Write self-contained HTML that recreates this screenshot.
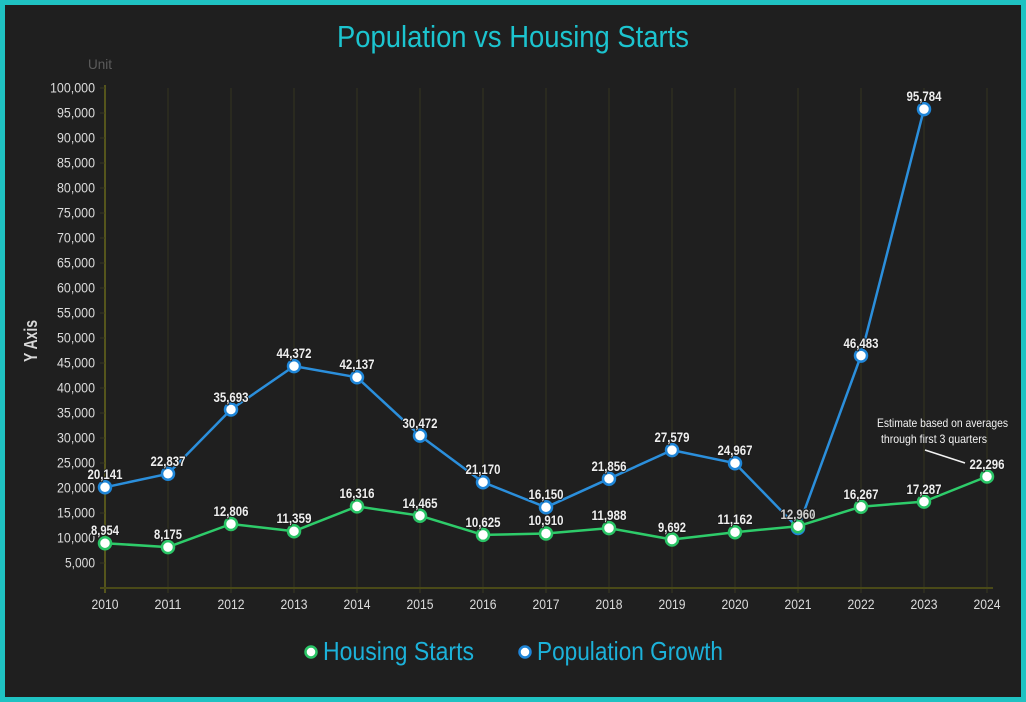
<!DOCTYPE html>
<html><head><meta charset="utf-8"><style>
html,body{margin:0;padding:0;background:#1f1f1f;}
svg{display:block;}
text{font-family:"Liberation Sans Narrow","Liberation Sans",sans-serif;}
</style></head><body>
<svg width="1026" height="702" viewBox="0 0 1026 702" xmlns="http://www.w3.org/2000/svg">
<rect x="0" y="0" width="1026" height="702" fill="#1f1f1f"/>
<rect x="2.5" y="2.5" width="1021" height="697" fill="none" stroke="#1fc2c2" stroke-width="5"/>

<text x="337" y="47" font-size="31" fill="#1cc4cf" textLength="352" lengthAdjust="spacingAndGlyphs">Population vs Housing Starts</text>
<text x="88" y="69" font-size="14" fill="#5c5c5c" textLength="24" lengthAdjust="spacingAndGlyphs">Unit</text>
<text transform="translate(37,341) rotate(-90)" text-anchor="middle" font-size="18" font-weight="bold" fill="#d8d8d8" textLength="42" lengthAdjust="spacingAndGlyphs">Y Axis</text>

<g stroke="#34341f" stroke-width="1">
<line x1="168" y1="88" x2="168" y2="588"/><line x1="231" y1="88" x2="231" y2="588"/><line x1="294" y1="88" x2="294" y2="588"/><line x1="357" y1="88" x2="357" y2="588"/><line x1="420" y1="88" x2="420" y2="588"/><line x1="483" y1="88" x2="483" y2="588"/><line x1="546" y1="88" x2="546" y2="588"/><line x1="609" y1="88" x2="609" y2="588"/><line x1="672" y1="88" x2="672" y2="588"/><line x1="735" y1="88" x2="735" y2="588"/><line x1="798" y1="88" x2="798" y2="588"/><line x1="861" y1="88" x2="861" y2="588"/><line x1="924" y1="88" x2="924" y2="588"/><line x1="987" y1="88" x2="987" y2="588"/>
</g>
<g stroke="#3a3a20" stroke-width="1">
<line x1="105" y1="588" x2="105" y2="593"/><line x1="168" y1="588" x2="168" y2="593"/><line x1="231" y1="588" x2="231" y2="593"/><line x1="294" y1="588" x2="294" y2="593"/><line x1="357" y1="588" x2="357" y2="593"/><line x1="420" y1="588" x2="420" y2="593"/><line x1="483" y1="588" x2="483" y2="593"/><line x1="546" y1="588" x2="546" y2="593"/><line x1="609" y1="588" x2="609" y2="593"/><line x1="672" y1="588" x2="672" y2="593"/><line x1="735" y1="588" x2="735" y2="593"/><line x1="798" y1="588" x2="798" y2="593"/><line x1="861" y1="588" x2="861" y2="593"/><line x1="924" y1="588" x2="924" y2="593"/><line x1="987" y1="588" x2="987" y2="593"/>
</g>
<line x1="105" y1="85" x2="105" y2="593" stroke="#55551c" stroke-width="2"/>
<line x1="100" y1="588" x2="993" y2="588" stroke="#4a4a18" stroke-width="2"/>

<g stroke="#3a3a20" stroke-width="1">
<line x1="100" y1="88" x2="105" y2="88"/><line x1="100" y1="113" x2="105" y2="113"/><line x1="100" y1="138" x2="105" y2="138"/><line x1="100" y1="163" x2="105" y2="163"/><line x1="100" y1="188" x2="105" y2="188"/><line x1="100" y1="213" x2="105" y2="213"/><line x1="100" y1="238" x2="105" y2="238"/><line x1="100" y1="263" x2="105" y2="263"/><line x1="100" y1="288" x2="105" y2="288"/><line x1="100" y1="313" x2="105" y2="313"/><line x1="100" y1="338" x2="105" y2="338"/><line x1="100" y1="363" x2="105" y2="363"/><line x1="100" y1="388" x2="105" y2="388"/><line x1="100" y1="413" x2="105" y2="413"/><line x1="100" y1="438" x2="105" y2="438"/><line x1="100" y1="463" x2="105" y2="463"/><line x1="100" y1="488" x2="105" y2="488"/><line x1="100" y1="513" x2="105" y2="513"/><line x1="100" y1="538" x2="105" y2="538"/><line x1="100" y1="563" x2="105" y2="563"/>
</g>

<g font-size="14" fill="#dcdcdc" text-anchor="end" lengthAdjust="spacingAndGlyphs">
<text x="95" y="92.5" textLength="45" lengthAdjust="spacingAndGlyphs">100,000</text>
<text x="95" y="117.5" textLength="38" lengthAdjust="spacingAndGlyphs">95,000</text>
<text x="95" y="142.5" textLength="38" lengthAdjust="spacingAndGlyphs">90,000</text>
<text x="95" y="167.5" textLength="38" lengthAdjust="spacingAndGlyphs">85,000</text>
<text x="95" y="192.5" textLength="38" lengthAdjust="spacingAndGlyphs">80,000</text>
<text x="95" y="217.5" textLength="38" lengthAdjust="spacingAndGlyphs">75,000</text>
<text x="95" y="242.5" textLength="38" lengthAdjust="spacingAndGlyphs">70,000</text>
<text x="95" y="267.5" textLength="38" lengthAdjust="spacingAndGlyphs">65,000</text>
<text x="95" y="292.5" textLength="38" lengthAdjust="spacingAndGlyphs">60,000</text>
<text x="95" y="317.5" textLength="38" lengthAdjust="spacingAndGlyphs">55,000</text>
<text x="95" y="342.5" textLength="38" lengthAdjust="spacingAndGlyphs">50,000</text>
<text x="95" y="367.5" textLength="38" lengthAdjust="spacingAndGlyphs">45,000</text>
<text x="95" y="392.5" textLength="38" lengthAdjust="spacingAndGlyphs">40,000</text>
<text x="95" y="417.5" textLength="38" lengthAdjust="spacingAndGlyphs">35,000</text>
<text x="95" y="442.5" textLength="38" lengthAdjust="spacingAndGlyphs">30,000</text>
<text x="95" y="467.5" textLength="38" lengthAdjust="spacingAndGlyphs">25,000</text>
<text x="95" y="492.5" textLength="38" lengthAdjust="spacingAndGlyphs">20,000</text>
<text x="95" y="517.5" textLength="38" lengthAdjust="spacingAndGlyphs">15,000</text>
<text x="95" y="542.5" textLength="38" lengthAdjust="spacingAndGlyphs">10,000</text>
<text x="95" y="567.5" textLength="30" lengthAdjust="spacingAndGlyphs">5,000</text>
</g>

<g font-size="14" fill="#dcdcdc" text-anchor="middle">
<text x="105" y="609" textLength="27" lengthAdjust="spacingAndGlyphs">2010</text>
<text x="168" y="609" textLength="27" lengthAdjust="spacingAndGlyphs">2011</text>
<text x="231" y="609" textLength="27" lengthAdjust="spacingAndGlyphs">2012</text>
<text x="294" y="609" textLength="27" lengthAdjust="spacingAndGlyphs">2013</text>
<text x="357" y="609" textLength="27" lengthAdjust="spacingAndGlyphs">2014</text>
<text x="420" y="609" textLength="27" lengthAdjust="spacingAndGlyphs">2015</text>
<text x="483" y="609" textLength="27" lengthAdjust="spacingAndGlyphs">2016</text>
<text x="546" y="609" textLength="27" lengthAdjust="spacingAndGlyphs">2017</text>
<text x="609" y="609" textLength="27" lengthAdjust="spacingAndGlyphs">2018</text>
<text x="672" y="609" textLength="27" lengthAdjust="spacingAndGlyphs">2019</text>
<text x="735" y="609" textLength="27" lengthAdjust="spacingAndGlyphs">2020</text>
<text x="798" y="609" textLength="27" lengthAdjust="spacingAndGlyphs">2021</text>
<text x="861" y="609" textLength="27" lengthAdjust="spacingAndGlyphs">2022</text>
<text x="924" y="609" textLength="27" lengthAdjust="spacingAndGlyphs">2023</text>
<text x="987" y="609" textLength="27" lengthAdjust="spacingAndGlyphs">2024</text>
</g>

<!-- Population series -->
<polyline fill="none" stroke="#2b8fdc" stroke-width="2.5" stroke-linejoin="round" points="105,487.3 168,473.8 231,409.5 294,366.1 357,377.3 420,435.6 483,482.2 546,507.3 609,478.7 672,450.1 735,463.2 798,528 861,355.6 924,109.1"/>
<g fill="#ffffff" stroke="#1f86d8" stroke-width="2.5">
<circle cx="105" cy="487.3" r="6"/><circle cx="168" cy="473.8" r="6"/><circle cx="231" cy="409.5" r="6"/><circle cx="294" cy="366.1" r="6"/><circle cx="357" cy="377.3" r="6"/><circle cx="420" cy="435.6" r="6"/><circle cx="483" cy="482.2" r="6"/><circle cx="546" cy="507.3" r="6"/><circle cx="609" cy="478.7" r="6"/><circle cx="672" cy="450.1" r="6"/><circle cx="735" cy="463.2" r="6"/><circle cx="798" cy="528" r="6"/><circle cx="861" cy="355.6" r="6"/><circle cx="924" cy="109.1" r="6"/>
</g>

<!-- Housing series -->
<polyline fill="none" stroke="#2ecc6a" stroke-width="2.5" stroke-linejoin="round" points="105,543.2 168,547.1 231,524 294,531.2 357,506.4 420,515.7 483,534.9 546,533.5 609,528.1 672,539.5 735,532.2 798,526.2 861,506.7 924,501.6 987,476.5"/>
<g fill="#ffffff" stroke="#2ac466" stroke-width="2.5">
<circle cx="105" cy="543.2" r="6"/><circle cx="168" cy="547.1" r="6"/><circle cx="231" cy="524" r="6"/><circle cx="294" cy="531.2" r="6"/><circle cx="357" cy="506.4" r="6"/><circle cx="420" cy="515.7" r="6"/><circle cx="483" cy="534.9" r="6"/><circle cx="546" cy="533.5" r="6"/><circle cx="609" cy="528.1" r="6"/><circle cx="672" cy="539.5" r="6"/><circle cx="735" cy="532.2" r="6"/><circle cx="798" cy="526.2" r="6"/><circle cx="861" cy="506.7" r="6"/><circle cx="924" cy="501.6" r="6"/><circle cx="987" cy="476.5" r="6"/>
</g>

<!-- Data labels -->
<g font-size="14" font-weight="bold" fill="#eeeeee" text-anchor="middle" stroke="#1a1a1a" stroke-width="2" paint-order="stroke" stroke-linejoin="round">
<text x="105" y="479" textLength="35" lengthAdjust="spacingAndGlyphs">20,141</text>
<text x="168" y="466" textLength="35" lengthAdjust="spacingAndGlyphs">22,837</text>
<text x="231" y="402" textLength="35" lengthAdjust="spacingAndGlyphs">35,693</text>
<text x="294" y="358" textLength="35" lengthAdjust="spacingAndGlyphs">44,372</text>
<text x="357" y="369" textLength="35" lengthAdjust="spacingAndGlyphs">42,137</text>
<text x="420" y="428" textLength="35" lengthAdjust="spacingAndGlyphs">30,472</text>
<text x="483" y="474" textLength="35" lengthAdjust="spacingAndGlyphs">21,170</text>
<text x="546" y="499" textLength="35" lengthAdjust="spacingAndGlyphs">16,150</text>
<text x="609" y="471" textLength="35" lengthAdjust="spacingAndGlyphs">21,856</text>
<text x="672" y="442" textLength="35" lengthAdjust="spacingAndGlyphs">27,579</text>
<text x="735" y="455" textLength="35" lengthAdjust="spacingAndGlyphs">24,967</text>
<text x="861" y="348" textLength="35" lengthAdjust="spacingAndGlyphs">46,483</text>
<text x="924" y="101" textLength="35" lengthAdjust="spacingAndGlyphs">95,784</text>

<text x="105" y="535" textLength="28" lengthAdjust="spacingAndGlyphs">8,954</text>
<text x="168" y="539" textLength="28" lengthAdjust="spacingAndGlyphs">8,175</text>
<text x="231" y="516" textLength="35" lengthAdjust="spacingAndGlyphs">12,806</text>
<text x="294" y="523" textLength="35" lengthAdjust="spacingAndGlyphs">11,359</text>
<text x="357" y="498" textLength="35" lengthAdjust="spacingAndGlyphs">16,316</text>
<text x="420" y="508" textLength="35" lengthAdjust="spacingAndGlyphs">14,465</text>
<text x="483" y="527" textLength="35" lengthAdjust="spacingAndGlyphs">10,625</text>
<text x="546" y="525" textLength="35" lengthAdjust="spacingAndGlyphs">10,910</text>
<text x="609" y="520" textLength="35" lengthAdjust="spacingAndGlyphs">11,988</text>
<text x="672" y="532" textLength="28" lengthAdjust="spacingAndGlyphs">9,692</text>
<text x="735" y="524" textLength="35" lengthAdjust="spacingAndGlyphs">11,162</text>
<text x="861" y="499" textLength="35" lengthAdjust="spacingAndGlyphs">16,267</text>
<text x="924" y="494" textLength="35" lengthAdjust="spacingAndGlyphs">17,287</text>
<text x="987" y="469" textLength="35" lengthAdjust="spacingAndGlyphs">22,296</text>
<text x="798" y="519" textLength="35" lengthAdjust="spacingAndGlyphs">12,367</text>
<text x="798" y="519" textLength="35" lengthAdjust="spacingAndGlyphs" fill-opacity="0.85">12,960</text>
</g>

<!-- Annotation -->
<g font-size="12" fill="#f2f2f2">
<text x="877" y="427" textLength="131" lengthAdjust="spacingAndGlyphs">Estimate based on averages</text>
<text x="881" y="443" textLength="106" lengthAdjust="spacingAndGlyphs">through first 3 quarters</text>
</g>
<line x1="925" y1="450" x2="965" y2="463" stroke="#f2f2f2" stroke-width="1.5"/>

<!-- Legend -->
<circle cx="311" cy="652" r="5.5" fill="#ffffff" stroke="#2ac466" stroke-width="2.5"/>
<text x="323" y="660" font-size="26" fill="#1cb2da" textLength="151" lengthAdjust="spacingAndGlyphs">Housing Starts</text>
<circle cx="525" cy="652" r="5.5" fill="#ffffff" stroke="#1f86d8" stroke-width="2.5"/>
<text x="537" y="660" font-size="26" fill="#1cb2da" textLength="186" lengthAdjust="spacingAndGlyphs">Population Growth</text>
</svg>
</body></html>
